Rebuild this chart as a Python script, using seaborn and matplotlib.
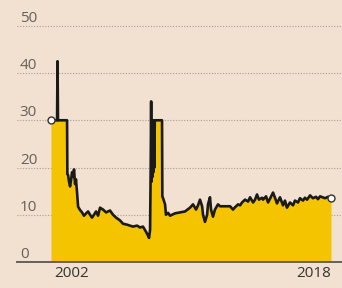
import numpy as np
import pandas as pd
import matplotlib
matplotlib.use("Agg")
import matplotlib.pyplot as plt
import seaborn as sns

# data (year, value)
years = [2000.61, 2001.01, 2001.04, 2001.07, 2001.10, 2001.67, 2001.69, 2001.74, 2001.80,
         2001.87, 2001.93, 2002.00, 2002.07, 2002.13, 2002.20, 2002.26, 2002.33, 2002.40,
         2002.53, 2002.66, 2002.79, 2002.93, 2003.06, 2003.19, 2003.32, 2003.45, 2003.59,
         2003.72, 2003.85, 2004.05, 2004.25, 2004.51, 2004.71, 2004.91, 2005.17, 2005.37,
         2005.64, 2005.83, 2006.03, 2006.30, 2006.50, 2006.69, 2006.89, 2007.02, 2007.09,
         2007.16, 2007.20, 2007.23, 2007.26, 2007.29, 2007.32, 2007.35, 2007.38, 2007.41,
         2007.44, 2007.47, 2007.95, 2007.97, 2008.02, 2008.15, 2008.21, 2008.35, 2008.48,
         2008.81, 2009.14, 2009.47, 2009.80, 2010.00, 2010.20, 2010.33, 2010.46, 2010.60,
         2010.66, 2010.79, 2010.93, 2010.99, 2011.12, 2011.19, 2011.32, 2011.45, 2011.65,
         2011.79, 2012.12, 2012.45, 2012.64, 2012.78, 2012.98, 2013.11, 2013.24, 2013.44,
         2013.64, 2013.77, 2013.97, 2014.10, 2014.23, 2014.36, 2014.56, 2014.63, 2014.83,
         2014.96, 2015.09, 2015.29, 2015.42, 2015.55, 2015.75, 2015.95, 2016.08, 2016.21,
         2016.41, 2016.61, 2016.74, 2016.94, 2017.07, 2017.27, 2017.40, 2017.54, 2017.74,
         2017.93, 2018.13, 2018.26, 2018.40, 2018.73, 2018.93, 2019.12]
values = [30.0, 30.0, 42.5, 30.0, 30.0, 30.0, 18.6, 18.4, 17.0,
          16.0, 17.3, 19.0, 18.0, 19.6, 16.5, 17.5, 14.7, 11.7,
          11.0, 10.5, 9.8, 10.3, 10.7, 10.0, 9.4, 10.0, 10.7,
          9.8, 11.5, 11.1, 10.5, 10.9, 10.0, 9.4, 8.8, 8.1,
          7.9, 7.7, 7.5, 7.7, 7.3, 7.5, 6.4, 5.6, 5.1,
          6.8, 20.0, 34.0, 17.0, 30.0, 18.0, 30.0, 19.0, 30.0,
          20.0, 30.0, 30.0, 13.9, 13.5, 12.2, 10.0, 10.4, 9.8,
          10.3, 10.5, 10.7, 11.5, 12.2, 11.1, 12.0, 13.2, 11.8,
          10.0, 8.5, 10.0, 12.2, 13.7, 11.1, 9.6, 11.1, 12.2,
          11.8, 11.8, 11.8, 11.1, 11.6, 12.2, 12.0, 12.6, 13.2,
          12.8, 13.7, 12.6, 13.2, 14.3, 13.2, 13.6, 13.2, 13.9,
          12.6, 13.4, 14.7, 13.6, 12.4, 13.7, 12.0, 13.0, 11.5,
          12.6, 12.0, 13.0, 12.6, 13.5, 13.0, 13.6, 13.2, 14.1,
          13.5, 13.8, 13.3, 13.9, 13.5, 13.8, 13.5]
ytick_vals = [0, 10, 20, 30, 40, 50]
xtick_vals = [2002, 2018]

df = pd.DataFrame({"year": years, "value": values})

bg = "#f2e0d0"
yellow = "#f5c400"
grey = "#66605c"

sns.set_theme(style="white", rc={"axes.facecolor": bg, "figure.facecolor": bg})
plt.rcParams["font.family"] = ["Open Sans", "DejaVu Sans"]

fig = plt.figure(figsize=(3.42, 2.88), dpi=100)
ax = fig.add_axes([17 / 342, 26 / 288, 325 / 342, 1 - 14 / 288 - 26 / 288])

ax.fill_between(df["year"], 0, df["value"], color=yellow, linewidth=0, zorder=2)
sns.lineplot(data=df, x="year", y="value", ax=ax, color="#1a1a1a", linewidth=1.9,
             estimator=None, sort=False, zorder=3)
ax.plot([years[0], years[-1]], [values[0], values[-1]], "o", ms=5,
        mfc="white", mec="#333333", mew=1.0, zorder=4)

ax.set_xlim(1998.36, 2019.85)
ax.set_ylim(0, 52.5)
for v in ytick_vals[1:]:
    ax.axhline(v, color="#a89f98", linestyle=(0, (1, 1.5)), linewidth=0.8, zorder=1)

ax.set_yticks(ytick_vals)
ax.tick_params(axis="y", length=0, pad=-2, labelsize=11, labelcolor=grey)
for lab in ax.get_yticklabels():
    lab.set_horizontalalignment("left")
    lab.set_verticalalignment("bottom")
ax.set_xticks(xtick_vals)
ax.set_xticklabels([str(x) for x in xtick_vals])
ax.tick_params(axis="x", length=0, pad=3, labelsize=11, labelcolor="#333333")

for s in ["top", "right", "left"]:
    ax.spines[s].set_visible(False)
ax.spines["bottom"].set_color(grey)
ax.spines["bottom"].set_linewidth(1.4)
ax.spines["bottom"].set_zorder(5)
ax.set_xlabel("")
ax.set_ylabel("")

fig.savefig("out.png", dpi=100, facecolor=bg)
